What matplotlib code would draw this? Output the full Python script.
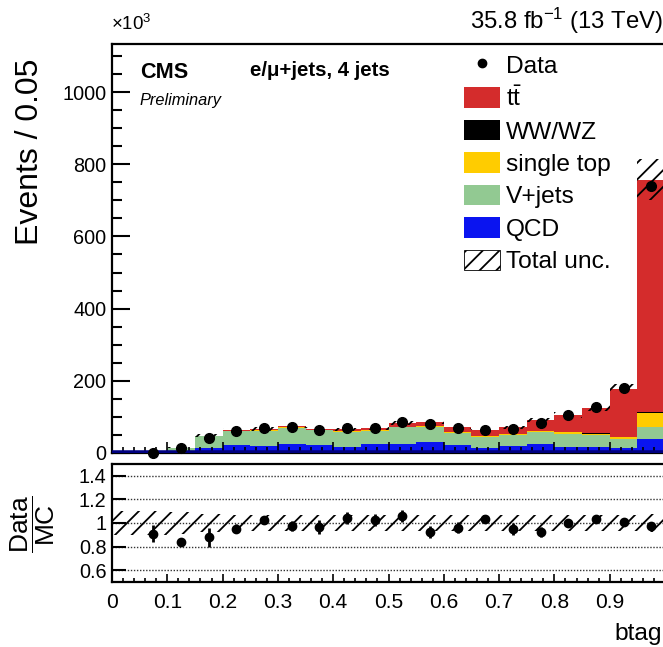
import numpy as np
import matplotlib
matplotlib.use('Agg')
import matplotlib.pyplot as plt
from matplotlib import font_manager
from matplotlib.patches import Patch
from matplotlib.lines import Line2D
from matplotlib.ticker import MultipleLocator, FixedLocator

# binning of the btag discriminator, 20 bins of 0.05
edges = np.linspace(0.0, 1.0, 21)
centers = 0.5 * (edges[:-1] + edges[1:])

# events per bin, in units of 10^3
data = np.array([np.nan, 0.6, 12.5, 42, 61, 68, 73, 65, 68, 70,
                 87, 80, 68, 65, 67, 84, 105, 128, 180, 739])
qcd = np.array([0.3, 0.3, 2, 15, 21, 20, 24, 21, 17, 24,
                24, 30, 22, 14, 20, 24, 17, 17, 15, 38])
vjets = np.array([0.2, 0.3, 12, 31.7, 40, 42, 46, 41.5, 42.4, 37,
                  46.8, 43.4, 34.7, 31, 30.7, 35, 37, 33, 25, 34])
single_top = np.array([0, 0, 0.3, 0.5, 1, 1, 1, 1, 1, 1.5,
                       1.5, 1.5, 2, 2, 2, 2, 3, 4, 4, 40])
diboson = np.array([0, 0, 0.1, 0.2, 0.3, 0.3, 0.3, 0.3, 0.3, 0.3,
                    0.3, 0.3, 0.3, 0.3, 0.3, 0.3, 0.3, 0.4, 0.5, 1])
ttbar = np.array([0.05, 0.06, 0.5, 0.3, 1.7, 3.2, 3.7, 3.7, 4.7, 5.6,
                  9.7, 11.7, 11.7, 15.7, 17.7, 29.7, 47.7, 69.6, 134, 644])
# relative total uncertainty and ratio error bars
unc_rel = np.array([0.10, 0.10, 0.09, 0.08, 0.07, 0.07, 0.07, 0.07, 0.07, 0.07,
                    0.07, 0.07, 0.07, 0.07, 0.07, 0.07, 0.07, 0.07, 0.07, 0.075])
ratio_err = np.array([0, 0.07, 0.01, 0.08, 0.04, 0.01, 0.04, 0.06, 0.05, 0.05,
                      0.05, 0.05, 0.05, 0.01, 0.05, 0.04, 0.01, 0.01, 0.01, 0.01])

names = {f.name for f in font_manager.fontManager.ttflist}
narrow = 'Liberation Sans Narrow' in names
nfam = 'Liberation Sans Narrow' if narrow else 'Liberation Sans'
k = 1.0 if narrow else 0.84

plt.rcParams['font.family'] = [nfam, 'DejaVu Sans']
plt.rcParams['mathtext.fontset'] = 'custom'
plt.rcParams['mathtext.rm'] = nfam
plt.rcParams['mathtext.sf'] = 'Liberation Sans'
plt.rcParams['mathtext.it'] = nfam + ':italic'
plt.rcParams['hatch.linewidth'] = 1.3

W, H = 663, 647
fig = plt.figure(figsize=(W / 100, H / 100), dpi=100)


def box(x0, y0, x1, y1):
    return [x0 / W, 1 - y1 / H, (x1 - x0) / W, (y1 - y0) / H]


ax = fig.add_axes(box(112, 44, 665, 453))
rax = fig.add_axes(box(112, 464, 665, 582))

# stacked backgrounds
components = [(qcd, '#0a14f0', 'QCD'), (vjets, '#92c992', 'V+jets'),
              (single_top, '#ffcc00', 'single top'), (diboson, 'black', 'WW/WZ'),
              (ttbar, '#d42c2c', r'$\mathrm{t\bar{t}}$')]
bottom = np.zeros(len(centers))
for vals, col, _ in components:
    ax.stairs(bottom + vals, edges, baseline=bottom, fill=True, color=col, lw=0)
    bottom = bottom + vals
mc = bottom

ax.stairs(mc * (1 + unc_rel), edges, baseline=mc * (1 - unc_rel), fill=True,
          facecolor='none', edgecolor='black', hatch='//', lw=0, zorder=3)
ax.axhline(0, color='#000080', lw=4, zorder=4)
ax.plot(centers, data, 'o', color='black', ms=7, clip_on=False, zorder=6)

ax.set_xlim(0, 1)
ax.set_ylim(0, 1133)
ax.yaxis.set_major_locator(MultipleLocator(200))
ax.yaxis.set_minor_locator(MultipleLocator(50))
ax.xaxis.set_major_locator(MultipleLocator(0.1))
ax.xaxis.set_minor_locator(MultipleLocator(0.02))
ax.tick_params(axis='y', which='major', direction='in', length=13, width=1.5,
               labelsize=17 * k, pad=4)
ax.tick_params(axis='y', which='minor', direction='in', length=7, width=1.5)
ax.tick_params(axis='x', which='major', direction='in', length=8, width=1.2,
               labelbottom=False)
ax.tick_params(axis='x', which='minor', direction='in', length=4, width=1.2)
for s in ax.spines.values():
    s.set_linewidth(1.6)

# legend
handles = [Line2D([], [], marker='o', color='black', ls='none', ms=6)]
labels = ['Data']
for vals, col, lab in components[::-1]:
    handles.append(Patch(facecolor=col, edgecolor='none'))
    labels.append(lab)
handles.append(Patch(facecolor='white', edgecolor='black', hatch='//', lw=0.6))
labels.append('Total unc.')
ax.legend(handles, labels, loc='upper left', bbox_to_anchor=(464 / W, 1 - 54 / H),
          bbox_transform=fig.transFigure, frameon=False, fontsize=21 * k,
          handlelength=1.45, handleheight=0.9, handletextpad=0.25,
          labelspacing=0.36, borderpad=0, borderaxespad=0)

# ratio panel
ratio = data / mc
rax.stairs(1 + unc_rel, edges, baseline=1 - unc_rel, fill=True,
           facecolor='none', edgecolor='black', hatch='//', lw=0, zorder=2)
rax.errorbar(centers, ratio, yerr=ratio_err, fmt='o', color='black', ms=6,
             elinewidth=2, capsize=0, zorder=4)
rax.set_xlim(0, 1)
rax.set_ylim(0.5, 1.5)
rax.yaxis.set_major_locator(FixedLocator([0.6, 0.8, 1.0, 1.2, 1.4]))
rax.set_yticklabels(['0.6', '0.8', '1', '1.2', '1.4'])
rax.yaxis.grid(True, linestyle=(0, (1, 1.2)), color='0.2', lw=1.0)
rax.xaxis.set_minor_locator(MultipleLocator(0.02))
rax.set_xticks(np.arange(0, 1.0, 0.1))
rax.set_xticklabels(['0', '0.1', '0.2', '0.3', '0.4', '0.5', '0.6', '0.7', '0.8', '0.9'])
rax.tick_params(axis='y', which='major', direction='in', length=10, width=1.5,
                labelsize=17 * k, pad=4)
rax.tick_params(axis='x', which='major', direction='in', length=6, width=1.2,
                labelsize=18 * k, pad=8)
rax.tick_params(axis='x', which='minor', direction='in', length=3, width=1.2)
for s in rax.spines.values():
    s.set_linewidth(1.6)

# texts
fig.text(30 / W, 1 - 152 / H, 'Events / 0.05', rotation=90, ha='center', va='center',
         fontsize=23, family='Liberation Sans')
fig.text(33 / W, 1 - 524 / H, r'$\dfrac{\mathsf{Data}}{\mathsf{MC}}$', rotation=90,
         ha='center', va='center', fontsize=19)
fig.text(662 / W, 1 - 634 / H, 'btag', ha='right', va='center', fontsize=21 * k)
fig.text(111 / W, 1 - 24 / H, '\u00d710$^{3}$', ha='left', va='center', fontsize=16 * k)
fig.text(663 / W, 1 - 21 / H, r'35.8 fb$^{-1}$ (13 TeV)', ha='right', va='center',
         fontsize=20.5 * k)
fig.text(140 / W, 1 - 72 / H, 'CMS', ha='left', va='center', fontsize=18.5 * k,
         fontweight='bold')
fig.text(140 / W, 1 - 100 / H, 'Preliminary', ha='left', va='center', fontsize=14 * k,
         fontstyle='italic')
fig.text(250 / W, 1 - 71 / H, 'e/\u03bc+jets, 4 jets', ha='left', va='center',
         fontsize=17.5 * k, fontweight='bold')

fig.savefig('out.png', dpi=100)
